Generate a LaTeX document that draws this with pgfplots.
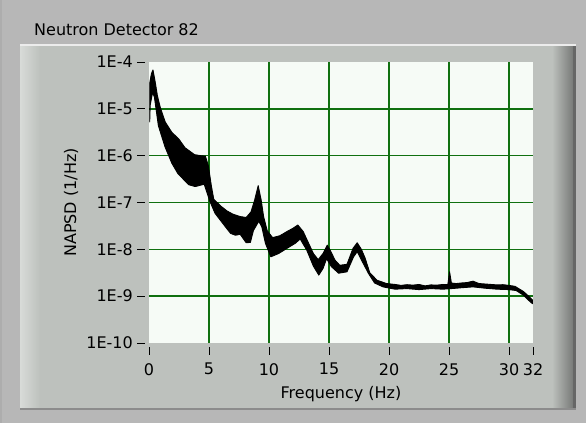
\documentclass[border=0pt]{standalone}
\usepackage{pgfplots}
\pgfplotsset{compat=1.18}
\usepackage{fontspec}
\setmainfont{DejaVu Sans}

\definecolor{framebg}{RGB}{183,183,183}
\definecolor{panelbg}{RGB}{189,193,189}
\definecolor{panelhi}{RGB}{216,219,216}
\definecolor{paneldark}{RGB}{120,122,120}
\definecolor{plotbg}{RGB}{246,251,246}
\definecolor{gridgreen}{RGB}{16,112,16}

\newcommand{\lvfont}{\fontsize{16}{19}\selectfont}

% envelope of the spectrum ensemble: upper edge left to right,
% then lower edge right to left, drawn as one closed band
\pgfplotstableread{
f      psd
0.06   3.55e-5
0.20   5.62e-5
0.33   6.76e-5
0.50   3.98e-5
0.70   1.91e-5
0.95   1.05e-5
1.35   5.25e-6
1.90   3.16e-6
2.50   2.24e-6
3.00   1.48e-6
3.80   1.05e-6
4.30   1.00e-6
4.70   9.77e-7
4.95   6.03e-7
5.20   2.24e-7
5.40   1.17e-7
6.00   8.32e-8
6.50   6.61e-8
7.00   5.62e-8
7.60   5.01e-8
8.10   4.79e-8
8.50   6.31e-8
8.80   1.12e-7
9.10   2.29e-7
9.35   1.12e-7
9.55   5.01e-8
9.85   2.51e-8
10.30  1.78e-8
10.90  1.95e-8
11.50  2.40e-8
12.00  2.82e-8
12.40  3.31e-8
12.85  2.40e-8
13.30  1.35e-8
13.70  8.13e-9
14.10  6.03e-9
14.50  8.13e-9
14.85  1.23e-8
15.10  9.55e-9
15.50  5.89e-9
15.90  4.57e-9
16.50  4.79e-9
17.00  1.05e-8
17.35  1.38e-8
17.70  1.00e-8
18.00  6.61e-9
18.40  3.16e-9
19.00  2.19e-9
19.80  1.86e-9
20.50  1.78e-9
21.00  1.70e-9
21.50  1.76e-9
22.00  1.72e-9
22.50  1.78e-9
23.00  1.66e-9
23.50  1.74e-9
24.00  1.72e-9
24.50  1.78e-9
24.90  1.76e-9
25.05  3.31e-9
25.20  1.91e-9
25.60  1.86e-9
26.00  1.91e-9
26.50  1.95e-9
27.00  2.09e-9
27.50  1.86e-9
28.00  1.82e-9
28.50  1.78e-9
29.00  1.74e-9
29.50  1.76e-9
30.00  1.70e-9
30.50  1.62e-9
31.20  1.26e-9
31.60  1.02e-9
31.95  8.32e-10
31.95  6.92e-10
31.60  8.32e-10
31.20  1.05e-9
30.60  1.32e-9
30.00  1.38e-9
29.00  1.41e-9
28.00  1.48e-9
27.00  1.58e-9
26.00  1.51e-9
25.20  1.45e-9
24.50  1.41e-9
23.50  1.45e-9
22.50  1.38e-9
21.50  1.45e-9
20.50  1.41e-9
19.50  1.58e-9
18.80  1.91e-9
18.30  3.02e-9
17.85  5.01e-9
17.35  8.91e-9
17.05  6.92e-9
16.50  3.31e-9
15.80  3.09e-9
15.20  4.27e-9
14.80  6.31e-9
14.50  3.89e-9
14.15  2.82e-9
13.70  4.37e-9
13.15  9.55e-9
12.60  1.66e-8
12.20  1.35e-8
11.50  1.05e-8
10.80  8.13e-9
10.15  6.92e-9
9.70   1.35e-8
9.40   3.02e-8
9.15   3.98e-8
8.70   2.51e-8
8.45   1.41e-8
8.10   1.38e-8
7.60   2.09e-8
7.20   2.00e-8
6.80   2.19e-8
6.40   2.95e-8
5.95   4.17e-8
5.50   5.89e-8
5.08   1.05e-7
4.60   2.45e-7
3.85   2.19e-7
3.30   2.40e-7
2.40   4.17e-7
1.90   6.92e-7
1.33   1.55e-6
0.78   4.37e-6
0.45   1.78e-5
0.30   2.24e-5
0.10   1.20e-5
0.06   5.25e-6
}\band

\begin{document}
\begin{tikzpicture}[x=1pt,y=1pt]
% window and bevelled panel
\fill[framebg] (0,0) rectangle (586,423);
\fill[black!32] (0,0) rectangle (2,423);
\fill[panelbg] (20,13) rectangle (576,379);
\shade[left color=panelhi, right color=panelbg] (20,15) rectangle (40,377);
\shade[left color=panelbg, right color=paneldark] (552,15) rectangle (573,377);
\fill[black!60] (573,13) rectangle (576,379);
\fill[black!45] (20,13) rectangle (576,15);
\fill[white!85!gray] (20,377) rectangle (576,379);
\node[anchor=base west, inner sep=0pt, font=\lvfont] at (34,387) {Neutron Detector 82};

\begin{axis}[
  at={(149pt,80pt)}, anchor=south west,
  scale only axis, width=384pt, height=281pt,
  xmin=0, xmax=32,
  ymode=log, ymin=1e-10, ymax=1e-4,
  axis background/.style={fill=plotbg},
  axis line style={draw=none},
  tick pos=left, tick align=outside,
  major tick length=8pt,
  xminorticks=false, yminorticks=false,
  xtick style={black, line width=0.9pt, yshift=-4pt},
  ytick style={black, line width=0.9pt, xshift=-4pt},
  grid=major,
  major grid style={gridgreen, line width=1.4pt},
  xtick={5,10,15,20,25,30},
  xticklabels={5,10,15,20,25,30},
  extra x ticks={0,32},
  extra x tick labels={0,32},
  extra x tick style={grid=none},
  ytick={1e-9,1e-8,1e-7,1e-6,1e-5},
  yticklabels={1E-9,1E-8,1E-7,1E-6,1E-5},
  extra y ticks={1e-10,1e-4},
  extra y tick labels={1E-10,1E-4},
  extra y tick style={grid=none},
  tick label style={font=\lvfont},
  xticklabel style={inner sep=0pt, yshift=-12pt},
  yticklabel style={inner sep=0pt, xshift=-8pt},
  xlabel={Frequency (Hz)},
  ylabel={NAPSD (1/Hz)},
  every axis x label/.style={at={(axis description cs:0.5,-0.1815)}, anchor=center, font=\lvfont},
  every axis y label/.style={at={(axis description cs:-0.203,0.5)}, rotate=90, anchor=center, font=\lvfont},
]
\addplot[black, fill=black, line width=0.9pt, line join=round] table[x=f, y=psd] {\band} -- cycle;
\end{axis}
\end{tikzpicture}
\end{document}
